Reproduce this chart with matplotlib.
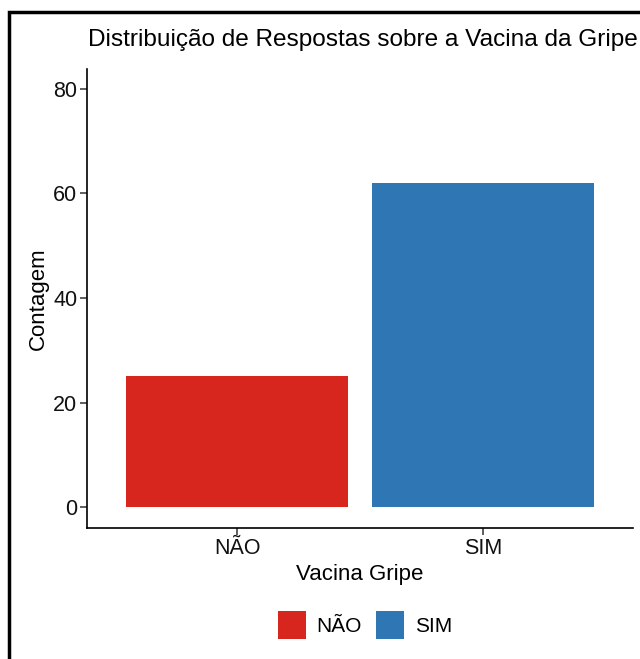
import matplotlib
matplotlib.use("Agg")
import matplotlib.pyplot as plt
from matplotlib.patches import Rectangle, Patch

categories = ["NÃO", "SIM"]
counts = [25, 62]
colors = ["#D7261E", "#2E77B4"]
yticks = [0, 20, 40, 60, 80]

plt.rcParams['font.family'] = ['Liberation Sans', 'DejaVu Sans']

W, H = 640, 659
fig = plt.figure(figsize=(W / 100, H / 100), dpi=100)
ax = fig.add_axes([87 / W, 1 - 528 / H, (633 - 87) / W, (528 - 69) / H])

x = [1, 2]
ax.bar(x, counts, width=0.9, color=colors)
ax.set_xlim(0.39, 2.61)
ax.set_ylim(-4.0, 83.8)
ax.set_xticks(x)
ax.set_xticklabels(categories)
ax.set_yticks(yticks)
ax.tick_params(axis='both', labelsize=15.5, length=5, width=1.1, color='#333333', labelcolor='#111111', pad=2)
for s in ['top', 'right']:
    ax.spines[s].set_visible(False)
for s in ['left', 'bottom']:
    ax.spines[s].set_linewidth(1.2)

ax.set_xlabel("Vacina Gripe", fontsize=16, labelpad=4)
ax.set_ylabel("Contagem", fontsize=16, labelpad=3)

fig.text(88 / W, 1 - 40 / H, "Distribuição de Respostas sobre a Vacina da Gripe",
         fontsize=17.6, ha='left', va='center')

handles = [Patch(facecolor=c, edgecolor='none') for c in colors]
fig.legend(handles, categories, loc='center', bbox_to_anchor=(365 / W, 1 - 625 / H),
           ncol=2, frameon=False, fontsize=15, handlelength=1.35, handleheight=1.7,
           handletextpad=0.5, columnspacing=0.7)

fig.patches.append(Rectangle((9 / W, -0.05), 1.2, 1 - 12 / H + 0.05, transform=fig.transFigure,
                             fill=False, edgecolor='black', linewidth=2.5))

fig.savefig("out.png", dpi=100)
